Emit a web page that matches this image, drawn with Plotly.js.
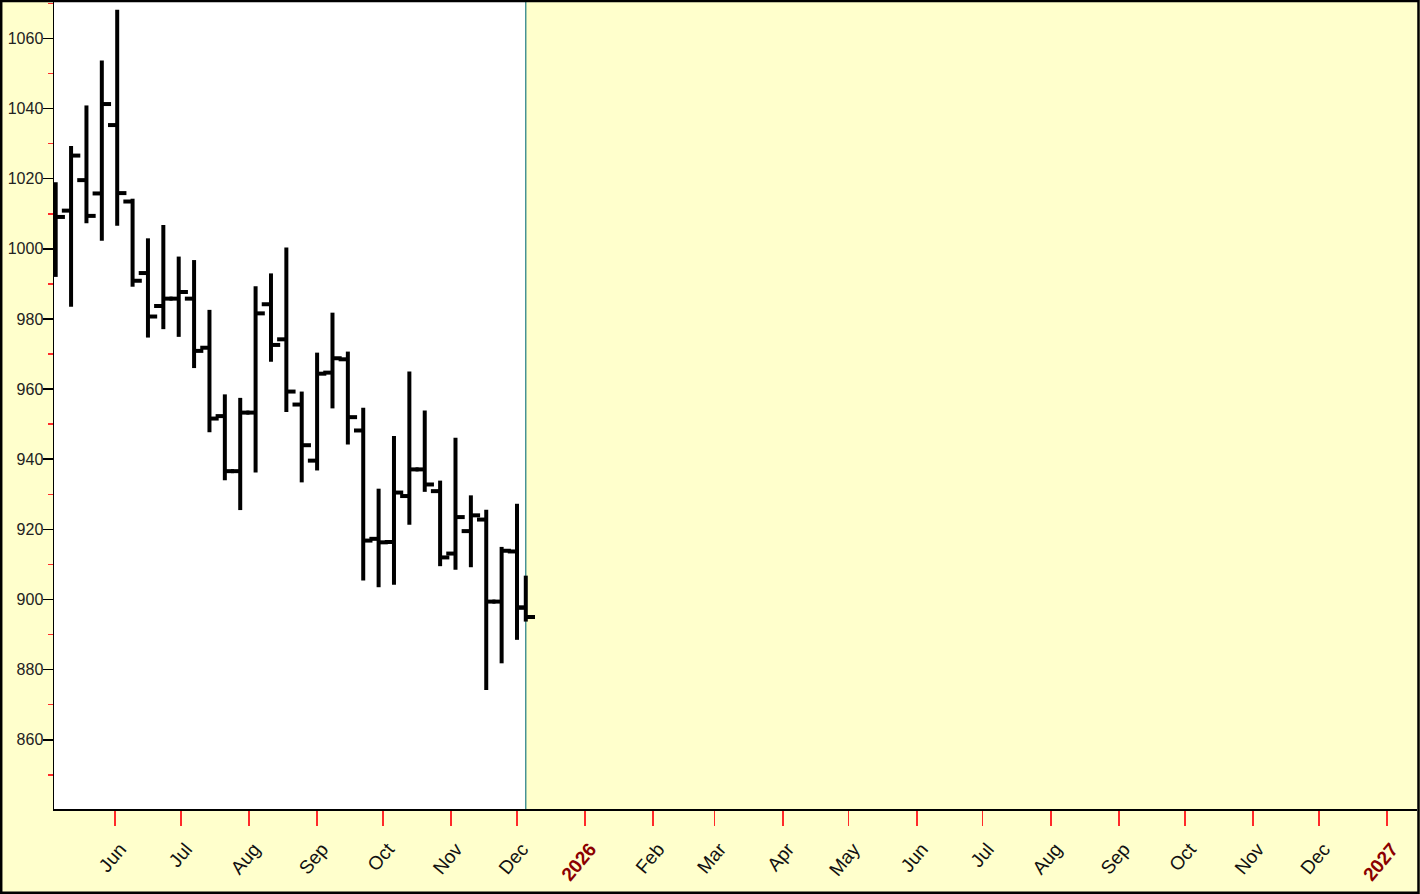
<!DOCTYPE html>
<html>
<head>
<meta charset="utf-8">
<script src="https://cdn.plot.ly/plotly-3.0.1.min.js"></script>
<style>
  html, body { margin: 0; padding: 0; background: #FFFFCC; }
  #chart { width: 1420px; height: 894px; }
</style>
</head>
<body>
<div id="chart"></div>
<script>
// ---- data (weekly OHLC bars, last one is the current partial week) ----
const dates = ['2025-05-05','2025-05-12','2025-05-19','2025-05-26','2025-06-02','2025-06-09','2025-06-16','2025-06-23',
               '2025-06-30','2025-07-07','2025-07-14','2025-07-21','2025-07-28','2025-08-04','2025-08-11','2025-08-18',
               '2025-08-25','2025-09-01','2025-09-08','2025-09-15','2025-09-22','2025-09-29','2025-10-06','2025-10-13',
               '2025-10-20','2025-10-27','2025-11-03','2025-11-10','2025-11-17','2025-11-24','2025-12-01','2025-12-05'];
const openVals  = [1008.4,1010.9,1019.6,1015.8,1035.3,1013.5, 993.1, 983.7, 985.8, 985.8, 971.8, 952.3, 936.6, 953.3, 984.2, 974.2,
                    955.6, 939.6, 964.7, 968.5, 948.2, 917.3, 916.4, 929.5, 937.1, 930.9, 913.1, 919.5, 922.8, 899.4, 913.7, 897.7];
const highVals  = [1019.0,1029.3,1040.9,1053.7,1068.2,1014.3,1003.0,1006.8, 997.8, 996.8, 982.6, 958.5, 957.5, 989.3, 993.0,1000.4,
                    959.3, 970.4, 981.8, 970.7, 954.7, 931.6, 946.6, 965.0, 953.9, 933.9, 946.1, 929.7, 925.6, 915.0, 927.3, 906.8];
const lowVals   = [ 992.0, 983.5,1007.3,1002.3,1006.6, 989.2, 974.7, 977.1, 974.9, 966.0, 947.7, 934.0, 925.5, 936.2, 967.8, 953.5,
                    933.4, 936.8, 954.5, 944.2, 905.4, 903.5, 904.2, 921.3, 930.7, 909.5, 908.5, 909.2, 874.2, 881.8, 888.5, 893.7];
const closeVals = [1009.1,1026.6,1009.4,1041.3,1015.9, 990.9, 980.7, 985.8, 987.7, 970.9, 951.6, 936.6, 953.3, 981.6, 972.6, 959.3,
                    944.0, 964.4, 968.8, 952.0, 916.8, 916.3, 930.5, 937.1, 932.8, 912.0, 923.5, 924.0, 899.4, 913.9, 897.7, 895.0];

// ---- x tick labels ----
const tickDates  = ['2025-06-01','2025-07-01','2025-08-01','2025-09-01','2025-10-01','2025-11-01','2025-12-01','2026-01-01',
                    '2026-02-01','2026-03-01','2026-04-01','2026-05-01','2026-06-01','2026-07-01','2026-08-01','2026-09-01',
                    '2026-10-01','2026-11-01','2026-12-01','2027-01-01'];
const tickLabels = ['Jun','Jul','Aug','Sep','Oct','Nov','Dec','2026','Feb','Mar','Apr','May','Jun','Jul','Aug','Sep','Oct','Nov','Dec','2027'];
const yearLabels = ['2026','2027'];

// ---- styling constants ----
const FONT = 'Arial, "Liberation Sans", sans-serif';
const BG = '#FFFFCC';
const DAY = 86400000;
const TICK_HALF = 4.2 * DAY;   // length of open/close ticks
const M = {l: 54, r: 3, t: 2, b: 85};
const W = 1420, H = 894;

// ---- build OHLC bar segments from the data arrays ----
const xs = [], ys = [];
for (let i = 0; i < dates.length; i++) {
  const t = Date.parse(dates[i]);
  xs.push(t, t, null);            ys.push(lowVals[i], highVals[i], null);
  xs.push(t - TICK_HALF, t, null); ys.push(openVals[i], openVals[i], null);
  xs.push(t, t + TICK_HALF, null); ys.push(closeVals[i], closeVals[i], null);
}

const bars = {
  type: 'scatter', mode: 'lines', x: xs, y: ys,
  line: {color: '#000', width: 4}, connectgaps: false, hoverinfo: 'skip'
};

const ticktext = tickLabels.map(s => yearLabels.includes(s)
  ? '<span style="color:#8B0000"><b>' + s + '</b></span>' : s);

const lastDate = dates[dates.length - 1];
const pw = W - M.l - M.r, ph = H - M.t - M.b;
const px = p => (p - M.l) / pw;
const py = p => (H - M.b - p) / ph;

const layout = {
  width: W, height: H,
  margin: {l: M.l, r: M.r, t: M.t, b: M.b, pad: 0},
  paper_bgcolor: BG, plot_bgcolor: BG,
  showlegend: false,
  font: {family: FONT, color: '#222'},
  xaxis: {
    type: 'date',
    range: ['2025-05-04 05:30', '2027-01-14 17:00'],
    tickmode: 'array', tickvals: tickDates, ticktext: ticktext,
    tickangle: -50,
    ticklabelshift: 5,
    ticklabelstandoff: 5,
    ticks: 'outside', ticklen: 15, tickwidth: 1.5, tickcolor: '#FF2A2A',
    showgrid: false, zeroline: false,
    showline: true, linecolor: '#000', linewidth: 1.5,
    tickfont: {family: FONT, size: 19, color: '#111'}
  },
  yaxis: {
    range: [840.25, 1070.4],
    tickmode: 'linear', tick0: 860, dtick: 20,
    ticks: 'outside', ticklen: 10, tickwidth: 1.5, tickcolor: '#000',
    ticklabelstandoff: -4,
    showgrid: false, zeroline: false,
    showline: true, linecolor: '#000', linewidth: 1.5,
    tickfont: {family: FONT, size: 16, color: '#222'},
    minor: {tick0: 850, dtick: 10, ticks: 'outside', ticklen: 5, tickwidth: 1.5, tickcolor: '#FF2A2A', showgrid: false}
  },
  shapes: [
    {type: 'rect', xref: 'x', yref: 'paper', x0: '2025-05-01', x1: lastDate, y0: 0, y1: 1,
     fillcolor: '#FFFFFF', line: {width: 0}, layer: 'below'},
    {type: 'line', xref: 'x', yref: 'paper', x0: lastDate, x1: lastDate, y0: 0, y1: 1,
     line: {color: '#1E7B80', width: 1.2}, layer: 'below'},
    {type: 'rect', xref: 'paper', yref: 'paper',
     x0: px(1.2), x1: px(W - 1.5), y0: py(H - 1.2), y1: py(1),
     fillcolor: 'rgba(0,0,0,0)', line: {color: '#000', width: 2.5}, layer: 'above'}
  ]
};

Plotly.newPlot('chart', [bars], layout, {staticPlot: true, displayModeBar: false});
</script>
</body>
</html>
